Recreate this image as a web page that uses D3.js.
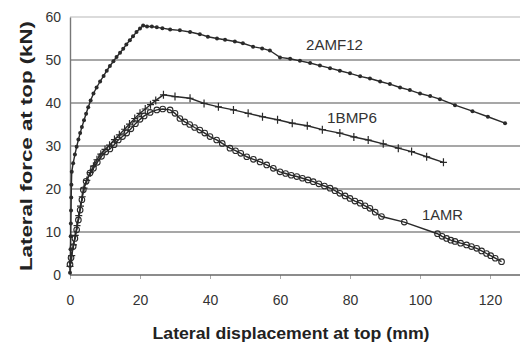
<!DOCTYPE html>
<html><head><meta charset="utf-8">
<script src="https://cdn.jsdelivr.net/npm/d3@7"></script>
<style>html,body{margin:0;padding:0;background:#fff;}</style>
</head><body>
<svg id="c" width="520" height="356"></svg>
<script>
const xTicks = [0, 20, 40, 60, 80, 100, 120];
const yTicks = [0, 10, 20, 30, 40, 50, 60];
const seriesNames = ["2AMF12", "1BMP6", "1AMR"];

const s2AMF12 = [
[0,0.5],[0.1,3],[0.15,6],[0.2,9],[0.25,12],[0.3,15],[0.35,18],[0.4,21],[0.5,24],[0.9,26],[1.4,28],[1.9,29.8],
[2.4,31.5],[2.9,33],[3.4,34.4],[4,36],[4.6,37.5],[5.2,39],[5.9,40.6],[6.7,42.2],[7.6,43.6],[8.6,45],[9.6,46.3],
[10.5,47.5],[11.4,48.6],[12.4,49.7],[13.3,50.7],[14.3,51.7],[15.2,52.6],[16.1,53.6],[17.1,54.6],[18,55.5],[19,56.5],
[20,57.3],[20.9,58],[22,57.8],[23.4,57.8],[24.8,57.6],[26.4,57.4],[28.6,57.1],[31.4,56.9],[34.3,56.5],[37.1,56.0],
[39.4,55.4],[42,55.0],[44.3,54.7],[47.1,54.3],[49.4,53.9],[52.3,53.1],[54.9,52.7],[57.1,52.2],[60,50.6],[62.9,50.3],
[65.7,49.8],[68.6,49.3],[71.4,48.7],[74.3,48.1],[77.1,47.5],[80,46.9],[82.9,46.2],[85.7,45.7],[88.6,45.0],[91.4,44.4],
[94.3,43.6],[97.1,43.0],[100,42.2],[102.9,41.6],[105.7,40.9],[110,39.5],[115,38.1],[119.4,36.8],[124.3,35.3]
];
const s1BMP6 = [
[0,2],[0.5,4.5],[1,7],[1.5,9.2],[2,11.5],[2.5,13.8],[3,16],[3.5,18.2],[4,20.2],[4.8,22],[5.8,23.8],[6.7,25.3],
[7.7,26.8],[8.8,28.1],[10,29.2],[11.3,30.2],[12.7,31.5],[14.1,32.6],[15.6,33.9],[17,35.1],[18.5,36.4],[20,37.6],
[21.5,38.6],[23,39.6],[24.5,40.6],[26.7,41.9],[30,41.5],[34.3,41.1],[38.3,39.9],[42.4,39.1],[46.7,38.4],[50.9,37.6],
[55,36.8],[59.3,36.1],[63.5,35.3],[67.8,34.7],[72.1,33.8],[77.1,33.0],[81.1,32.1],[85.2,31.4],[89.5,30.5],[93.8,29.5],
[97.6,28.7],[101.9,27.5],[106.7,26.2]
];
const s1AMR = [
[0,2.5],[0.3,4],[0.9,6.6],[1.4,8.5],[1.9,10.5],[2.4,12.8],[2.9,15.1],[3.4,17.5],[3.8,19.8],[4.6,21.8],[5.7,23.7],
[6.7,24.8],[7.8,26.2],[9,27.6],[10.2,28.6],[11.4,29.3],[12.6,30.3],[13.8,31.4],[15,32.2],[16.2,33],[17.4,34],
[18.7,35.2],[20,36.2],[21.2,37],[22.9,37.8],[24.8,38.4],[26.5,38.6],[28.6,38.4],[30,37.6],[31.4,36.4],[32.8,35.6],
[34.2,35.0],[35.6,34.3],[37.1,33.7],[38.5,33.0],[40,32.2],[41.9,31.4],[43.5,30.6],[45.7,29.5],[47.3,28.9],[48.8,28.3],
[50.5,27.5],[52.4,26.9],[54.3,26.3],[56.2,25.6],[58.1,24.8],[60,24.0],[61.6,23.6],[63.2,23.2],[64.8,22.9],[66.4,22.5],
[68,22.1],[69.5,21.7],[71.1,21.2],[72.7,20.7],[74.3,20.2],[75.7,19.6],[77.1,19.0],[78.6,18.4],[80,17.8],[81.4,17.2],
[82.9,16.7],[84.3,16.1],[85.7,15.5],[87.2,14.6],[89,13.6],[95.5,12.3],[105,9.6],[106.3,9.0],[107.6,8.5],[108.8,8.1],
[110,7.8],[111.6,7.4],[113.3,7.0],[114.7,6.6],[116.2,6.2],[117.6,5.6],[119,5.0],[120.2,4.5],[121.5,3.9],[123.3,3.1]
];

const svg = d3.select("#c");
const x = d3.scaleLinear().domain([0, 120]).range([70, 490]);
const y = d3.scaleLinear().domain([0, 60]).range([275, 17]);
const font = "'Liberation Sans', Arial, sans-serif";
const ink = "#2a2a2a";

// gridlines
svg.append("g").selectAll("line").data(yTicks.filter(d => d > 0)).join("line")
  .attr("x1", x(0)).attr("x2", 520)
  .attr("y1", d => y(d)).attr("y2", d => y(d))
  .attr("stroke", d => d === 60 ? "#cfcfcf" : "#8a8a8a").attr("stroke-width", 1.4);

// x axis
const xAxis = d3.axisBottom(x).tickValues(xTicks).tickSize(4).tickPadding(12);
const gx = svg.append("g").attr("transform", `translate(0,${y(0)})`).call(xAxis);
gx.select(".domain").remove();
gx.append("line").attr("x1", x(0)).attr("x2", 520).attr("stroke", "#666").attr("stroke-width", 1.6);
gx.selectAll(".tick line").attr("stroke", "#aaa");
gx.selectAll(".tick text").attr("font-family", font).attr("font-size", 14).attr("fill", "#333")
  .attr("dy", "0.71em").attr("y", 20);

// y axis
const yAxis = d3.axisLeft(y).tickValues(yTicks).tickSize(0).tickPadding(9);
const gy = svg.append("g").attr("transform", `translate(${x(0)},0)`).call(yAxis);
gy.select(".domain").attr("stroke", "#777").attr("stroke-width", 1.4);
gy.selectAll(".tick text").attr("font-family", font).attr("font-size", 14).attr("fill", "#333");

// lines
const line = d3.line().x(d => x(d[0])).y(d => y(d[1]));
[s2AMF12, s1BMP6, s1AMR].forEach(s => {
  svg.append("path").datum(s).attr("d", line).attr("fill", "none")
    .attr("stroke", ink).attr("stroke-width", 1.4);
});

// markers 2AMF12: filled dots
svg.append("g").selectAll("circle").data(s2AMF12).join("circle")
  .attr("cx", d => x(d[0])).attr("cy", d => y(d[1])).attr("r", 2).attr("fill", ink);

// markers 1BMP6: plus
const pg = svg.append("g").attr("stroke", ink).attr("stroke-width", 1.2);
pg.selectAll("path").data(s1BMP6).join("path")
  .attr("d", d => { const px = x(d[0]), py = y(d[1]); return `M${px-3.5},${py}H${px+3.5}M${px},${py-4}V${py+4}`; });

// markers 1AMR: open circles
svg.append("g").selectAll("circle").data(s1AMR).join("circle")
  .attr("cx", d => x(d[0])).attr("cy", d => y(d[1])).attr("r", 2.8)
  .attr("fill", "none").attr("stroke", ink).attr("stroke-width", 1.1);

// series labels
const labelPos = [[306, 50, 57], [327, 123, 50], [422, 220, 41]];
seriesNames.forEach((n, i) => {
  svg.append("text").attr("x", labelPos[i][0]).attr("y", labelPos[i][1])
    .attr("font-family", font).attr("font-size", 14).attr("fill", "#333")
    .attr("textLength", labelPos[i][2]).attr("lengthAdjust", "spacingAndGlyphs").text(n);
});

// axis titles
svg.append("text").attr("x", 291).attr("y", 339).attr("text-anchor", "middle")
  .attr("font-family", font).attr("font-size", 17).attr("font-weight", "bold").attr("fill", "#222")
  .attr("textLength", 277).attr("lengthAdjust", "spacingAndGlyphs")
  .text("Lateral displacement at top (mm)");
svg.append("text").attr("transform", "translate(32,146) rotate(-90)").attr("text-anchor", "middle")
  .attr("font-family", font).attr("font-size", 17).attr("font-weight", "bold").attr("fill", "#222")
  .attr("textLength", 250).attr("lengthAdjust", "spacingAndGlyphs")
  .text("Lateral force at top (kN)");
</script>
</body></html>
